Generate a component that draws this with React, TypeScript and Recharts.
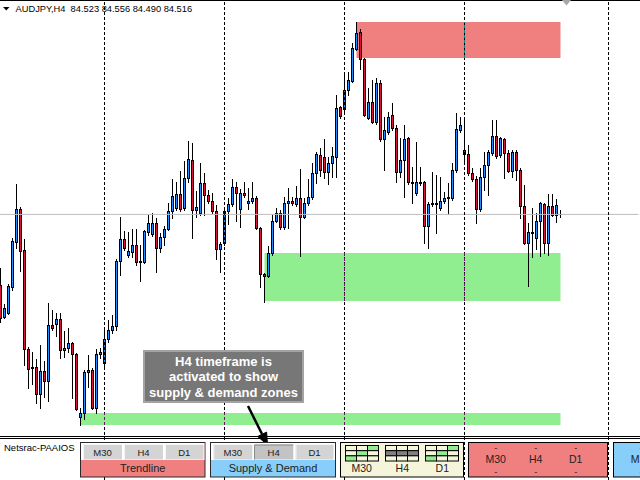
import React from 'react';
import { ComposedChart, Bar, XAxis, YAxis, ReferenceLine, ReferenceArea } from 'recharts';

const symbolTitle = 'AUDJPY,H4';
const quoteOHLC = ['84.523', '84.556', '84.490', '84.516'];
const bidPrice = 84.516;
const totalSlots = 160;
const yDomain = [81.86, 86.66];

const highs = [
  83.98, 83.62, 83.82, 84.28, 84.82, 84.59, 84.27, 83.19, 83.14, 83.07,
  83.21, 83.05, 83.63, 83.56, 83.53, 83.53, 83.35, 83.38, 83.24, 83.13,
  82.58, 82.96, 83.11, 82.98, 83.17, 83.18, 83.36, 83.46, 83.51, 84.07,
  84.49, 84.35, 84.34, 84.37, 84.37, 84.21, 84.36, 84.51, 84.53, 84.48,
  84.33, 84.40, 84.63, 84.87, 84.84, 84.95, 85.05, 85.25, 85.23, 84.75,
  85.03, 84.93, 84.76, 84.73, 84.61, 84.24, 84.58, 84.68, 84.87, 84.84,
  84.77, 84.84, 84.78, 84.84, 84.70, 84.39, 83.93, 84.20, 84.51, 84.58,
  84.56, 84.69, 84.78, 84.69, 84.80, 84.97, 84.68, 84.87, 85.03, 85.14,
  85.18, 85.27, 85.09, 85.19, 85.71, 85.60, 85.94, 85.94, 86.23, 86.44,
  86.37, 86.08, 85.78, 85.86, 85.88, 85.86, 85.49, 85.54, 85.63, 85.41,
  85.28, 85.41, 85.29, 84.99, 85.24, 84.99, 84.85, 84.64, 84.94, 84.91,
  84.89, 84.74, 84.83, 85.03, 85.53, 85.49, 85.46, 85.21, 84.98, 84.90,
  84.98, 85.14, 85.16, 85.46, 85.46, 85.29, 85.28, 85.16, 85.16, 85.16,
  84.98, 84.81, 84.43, 84.58, 84.53, 84.64, 84.63, 84.72, 84.72, 84.67,
  84.556,
];

const opens = [
  83.81, 83.49, 83.53, 83.79, 84.24, 84.57, 84.16, 83.17, 82.98, 82.99,
  82.72, 82.95, 82.85, 83.41, 83.42, 83.47, 83.16, 83.18, 83.23, 83.12,
  82.49, 82.53, 82.94, 82.96, 82.58, 83.12, 83.03, 83.27, 83.36, 83.40,
  84.05, 84.27, 84.11, 84.14, 84.21, 84.05, 84.04, 84.34, 84.32, 84.43,
  84.18, 84.29, 84.37, 84.55, 84.58, 84.72, 84.58, 84.88, 85.06, 84.56,
  84.53, 84.83, 84.71, 84.65, 84.55, 84.17, 84.23, 84.55, 84.62, 84.79,
  84.57, 84.73, 84.63, 84.65, 84.68, 84.38, 83.92, 83.90, 84.13, 84.45,
  84.53, 84.39, 84.63, 84.65, 84.62, 84.68, 84.49, 84.63, 84.69, 84.93,
  85.11, 85.09, 84.94, 85.03, 85.09, 85.59, 85.57, 85.76, 85.85, 86.17,
  86.34, 86.07, 85.48, 85.64, 85.44, 85.83, 85.27, 85.34, 85.51, 85.38,
  84.94, 85.06, 85.28, 84.83, 84.73, 84.84, 84.84, 84.40, 84.62, 84.63,
  84.58, 84.65, 84.68, 84.68, 84.96, 85.36, 85.16, 85.12, 84.93, 84.87,
  84.57, 84.89, 85.01, 85.13, 85.30, 85.11, 85.27, 85.13, 84.95, 85.14,
  84.96, 84.60, 84.23, 84.34, 84.28, 84.45, 84.62, 84.23, 84.60, 84.51,
  84.523,
];

const closes = [
  83.48, 83.58, 83.80, 84.25, 84.57, 84.15, 83.17, 82.97, 82.99, 82.72,
  82.95, 82.85, 83.41, 83.38, 83.47, 83.16, 83.18, 83.23, 83.12, 82.57,
  82.53, 82.94, 82.96, 82.58, 83.12, 83.14, 83.27, 83.36, 83.40, 84.05,
  84.27, 84.18, 84.15, 84.21, 84.04, 84.04, 84.35, 84.43, 84.43, 84.18,
  84.29, 84.37, 84.55, 84.70, 84.72, 84.57, 84.88, 85.07, 84.56, 84.59,
  84.83, 84.71, 84.65, 84.55, 84.17, 84.22, 84.55, 84.62, 84.79, 84.73,
  84.73, 84.71, 84.65, 84.68, 84.38, 83.92, 83.90, 84.13, 84.45, 84.53,
  84.39, 84.63, 84.65, 84.63, 84.68, 84.49, 84.63, 84.69, 84.93, 85.12,
  84.96, 84.94, 85.03, 85.10, 85.58, 85.50, 85.76, 85.86, 86.18, 86.33,
  86.07, 85.51, 85.64, 85.44, 85.83, 85.27, 85.36, 85.49, 85.38, 84.94,
  85.06, 85.27, 84.84, 84.84, 84.84, 84.83, 84.40, 84.62, 84.63, 84.62,
  84.65, 84.68, 84.69, 84.96, 85.37, 85.41, 85.12, 84.93, 84.87, 84.57,
  84.89, 85.01, 85.14, 85.30, 85.10, 85.28, 85.13, 84.95, 85.14, 84.96,
  84.60, 84.23, 84.34, 84.33, 84.45, 84.63, 84.23, 84.60, 84.51, 84.61,
  84.516,
];

const lows = [
  83.44, 83.48, 83.52, 83.76, 84.18, 83.95, 83.01, 82.78, 82.82, 82.63,
  82.58, 82.69, 82.65, 83.36, 83.30, 83.08, 83.09, 83.14, 82.68, 82.56,
  82.41, 82.47, 82.79, 82.57, 82.53, 83.08, 82.99, 83.24, 83.33, 83.36,
  83.91, 84.16, 84.09, 84.09, 84.01, 83.85, 84.03, 84.31, 84.30, 83.94,
  84.14, 84.21, 84.36, 84.48, 84.56, 84.55, 84.56, 84.84, 84.28, 84.49,
  84.51, 84.51, 84.63, 84.53, 84.07, 83.94, 84.21, 84.42, 84.60, 84.45,
  84.39, 84.69, 84.57, 84.63, 84.37, 83.79, 83.64, 83.89, 84.11, 84.44,
  84.37, 84.37, 84.38, 84.61, 84.60, 84.10, 84.48, 84.61, 84.67, 84.83,
  84.90, 84.88, 84.82, 84.89, 84.89, 85.48, 85.54, 85.71, 85.84, 86.16,
  85.97, 85.50, 85.47, 85.43, 85.42, 85.25, 84.96, 85.32, 85.36, 84.84,
  84.89, 84.69, 84.82, 84.63, 84.71, 84.81, 84.23, 84.18, 84.60, 84.33,
  84.56, 84.63, 84.52, 84.66, 84.94, 85.34, 85.04, 84.91, 84.85, 84.43,
  84.55, 84.76, 84.71, 85.11, 85.08, 85.09, 84.88, 84.94, 84.89, 84.86,
  84.48, 84.22, 83.80, 84.09, 84.17, 84.10, 84.13, 84.11, 84.50, 84.44,
  84.490,
];

// weekly period separators (bar index)
const separatorBars = [26, 56, 86, 116, 152];

// supply / demand zones
const zoneKinds = ['supply', 'demand', 'demand'];
const zoneFromBar = [89, 66, 20];
const zoneToBar = [140, 140, 140];
const zoneLow = [86.08, 83.65, 82.41];
const zoneHigh = [86.44, 84.13, 82.53];

const annotationLines = ['H4 timeframe is', 'activated to show', 'supply & demand zones'];
const indicatorName = 'Netsrac-PAAIOS';
const timeframes = ['M30', 'H4', 'D1'];

const data = Array.from({ length: totalSlots }, (_, i) =>
  i < opens.length
    ? { idx: i, range: [lows[i], highs[i]], open: opens[i], high: highs[i], low: lows[i], close: closes[i] }
    : { idx: i, range: null, open: null, high: null, low: null, close: null }
);

const zoneColor = (k: string) => (k === 'supply' ? '#F08080' : '#90EE90');
const xorColor = (k: string) => (k === 'supply' ? '#0F7F7F' : '#6F116F');

const Candle = (props: any) => {
  const { x, y, width, height, payload } = props;
  if (!payload || payload.open == null || !isFinite(y) || !isFinite(height)) return null;
  const top = Math.min(y, y + height);
  const bottom = Math.max(y, y + height);
  const cx = Math.floor(x + width / 2) + 0.5;
  const span = payload.high - payload.low;
  const toY = (p: number) => (span > 0 ? top + ((payload.high - p) / span) * (bottom - top) : top);
  const yo = toY(payload.open);
  const yc = toY(payload.close);
  const bt = Math.round(Math.min(yo, yc)) + 0.5;
  const bb = Math.round(Math.max(yo, yc)) + 0.5;
  const bull = payload.close > payload.open;
  const fill = bull ? '#1E90FF' : '#DC143C';
  return (
    <g shapeRendering="crispEdges">
      <line x1={cx} x2={cx} y1={Math.round(top)} y2={Math.round(bottom) + 1} stroke="#000" strokeWidth={1} />
      {bb - bt >= 1 ? (
        <rect x={cx - 1} y={bt} width={2} height={bb - bt} fill={fill} stroke="#000" strokeWidth={1} />
      ) : (
        <line x1={cx - 1.5} x2={cx + 1.5} y1={bt} y2={bt} stroke="#000" strokeWidth={1} />
      )}
    </g>
  );
};

const makeZoneShape = (from: number, to: number) => (props: any) => {
  const { x, y, width, height, fill } = props;
  const inset = width / (to - from + 1) / 2;
  return <rect x={x + inset} y={y} width={Math.max(0, width - 2 * inset)} height={height} fill={fill} stroke="none" />;
};

const Btn = ({ x, w, label, pressed }: { x: number; w: number; label: string; pressed?: boolean }) => (
  <g>
    <rect x={x} y={444.5} width={w} height={15} fill={pressed ? '#C3C3C3' : '#D4D4D4'} />
    {pressed ? (
      <path d={`M${x + 0.5} 459.5 V445 H${x + w}`} stroke="#8A8A8A" fill="none" />
    ) : (
      <path d={`M${x + 0.5} 459.5 V444.5 H${x + w}`} stroke="#F4F4F4" fill="none" />
    )}
    <text x={x + w / 2} y={pressed ? 456 : 455.5} textAnchor="middle" fontSize={9.5} fill="#222" fontFamily="Liberation Sans, Arial, sans-serif">
      {label}
    </text>
  </g>
);

const gridPatterns = [
  [['b', 'b', 'g'], ['b', 'g', 'b'], ['g', 'b', 'b']],
  [['b', 'b', 'b'], ['k', 'k', 'k'], ['b', 'b', 'b']],
  [['b', 'b', 'g'], ['b', 'g', 'b'], ['g', 'b', 'b']],
];
const cellColor: Record<string, string> = { b: '#F5F5DC', g: '#90EE90', k: '#808080' };

const Panel = () => {
  const font = 'Liberation Sans, Arial, sans-serif';
  const gridX = [345.5, 385.5, 425.5];
  const gridLabelX = [361.7, 402.3, 442.3];
  const redLabelX = [495.7, 535.7, 575.7];
  return (
    <svg width={640} height={480} style={{ position: 'absolute', left: 0, top: 0, pointerEvents: 'none' }}>
      {/* top border */}
      <line x1={0} x2={640} y1={0.5} y2={0.5} stroke="#000" />
      <polygon points="562,0 571,0 566.5,5.5" fill="#A8A8A8" />
      {/* title */}
      <polygon points="3,7 9.5,7 6.25,10.5" fill="#000" />
      <text x={15.5} y={12} fontSize={9.3} fontFamily={font} fill="#000" style={{ whiteSpace: 'pre' }}>
        {symbolTitle + '  ' + quoteOHLC.join(' ')}
      </text>
      {/* annotation */}
      <rect x={144} y={351} width={159} height={51} fill="#777777" stroke="#A3A3A3" strokeWidth={2} />
      {annotationLines.map((t, k) => (
        <text key={t} x={223.5} y={365.5 + k * 15.8} textAnchor="middle" fontSize={13} fontWeight="bold" fill="#FFFFFF" fontFamily={font}>
          {t}
        </text>
      ))}
      <line x1={248} y1={406} x2={262} y2={434} stroke="#000" strokeWidth={2.5} />
      <polygon points="267.5,445 257.7,436.5 266.6,432.1" fill="#000" stroke="#000" strokeWidth={1} />
      {/* panel separator */}
      <line x1={0} x2={640} y1={436.5} y2={436.5} stroke="#000" />
      <line x1={0} x2={640} y1={438.5} y2={438.5} stroke="#000" />
      <text x={4} y={451} fontSize={9.5} fontFamily={font} fill="#000">{indicatorName}</text>
      {/* Trendline group */}
      <rect x={80.5} y={442.5} width={124.5} height={34.5} fill="#F08080" stroke="#2A2A2A" />
      <rect x={81} y={443} width={123.5} height={17} fill="#FFFFFF" />
      <Btn x={83} w={39} label={timeframes[0]} />
      <Btn x={124} w={39} label={timeframes[1]} />
      <Btn x={165} w={38.5} label={timeframes[2]} />
      <text x={142.7} y={472} textAnchor="middle" fontSize={11} fontFamily={font} fill="#222">Trendline</text>
      {/* Supply & Demand group */}
      <rect x={210.5} y={442.5} width={125} height={34.5} fill="#87CEFA" stroke="#2A2A2A" />
      <rect x={211} y={443} width={124} height={17} fill="#FFFFFF" />
      <Btn x={213.3} w={39} label={timeframes[0]} />
      <Btn x={254} w={39.3} label={timeframes[1]} pressed />
      <Btn x={295.5} w={38} label={timeframes[2]} />
      <text x={273} y={472} textAnchor="middle" fontSize={11} fontFamily={font} fill="#222">Supply &amp; Demand</text>
      {/* status grid group */}
      <rect x={340.5} y={442.5} width={123} height={34.5} fill="#F5F5DC" stroke="#000" />
      {gridPatterns.map((rows, g) => (
        <g key={g}>
          {rows.map((row, r) =>
            row.map((c, col) => (
              <rect key={`${r}-${col}`} x={gridX[g] + col * 11} y={445.5 + r * 5.17} width={11} height={5.17} fill={cellColor[c]} stroke="#000" strokeWidth={1} />
            ))
          )}
          <text x={gridLabelX[g]} y={472} textAnchor="middle" fontSize={10.5} fontFamily={font} fill="#222">
            {timeframes[g]}
          </text>
        </g>
      ))}
      {/* red trend status group */}
      <rect x={468.5} y={442.5} width={139} height={34.5} fill="#F08080" stroke="#000" />
      {redLabelX.map((lx, g) => (
        <g key={g}>
          <text x={lx} y={450.5} textAnchor="middle" fontSize={9} fontFamily={font} fill="#222">-</text>
          <text x={lx} y={463} textAnchor="middle" fontSize={10.5} fontFamily={font} fill="#222">{timeframes[g]}</text>
          <text x={lx} y={475} textAnchor="middle" fontSize={9} fontFamily={font} fill="#222">-</text>
        </g>
      ))}
      {/* blue partial group */}
      <rect x={613.5} y={442.5} width={40} height={34.5} fill="#87CEFA" stroke="#000" />
      <text x={641} y={450.5} textAnchor="middle" fontSize={9} fontFamily={font} fill="#222">-</text>
      <text x={641} y={463} textAnchor="middle" fontSize={10.5} fontFamily={font} fill="#222">{timeframes[0]}</text>
      <text x={641} y={475} textAnchor="middle" fontSize={9} fontFamily={font} fill="#222">-</text>
    </svg>
  );
};

export default function App() {
  const xorSegments: { s: number; k: string; lo: number; hi: number }[] = [];
  zoneKinds.forEach((k, z) => {
    separatorBars.forEach((s) => {
      if (s >= zoneFromBar[z] && s <= zoneToBar[z]) xorSegments.push({ s, k, lo: zoneLow[z], hi: zoneHigh[z] });
    });
  });
  return (
    <div style={{ position: 'absolute', left: 0, top: 0, width: 640, height: 480, overflow: 'hidden', background: '#fff' }}>
      <ComposedChart width={640} height={480} data={data} margin={{ top: 0, right: 1.5, bottom: 0, left: -1.5 }}>
        <XAxis dataKey="idx" type="category" hide />
        <YAxis type="number" domain={yDomain} hide allowDataOverflow />
        {zoneKinds.map((k, z) => (
          <ReferenceArea
            key={`zone-${z}`}
            x1={zoneFromBar[z]}
            x2={zoneToBar[z]}
            y1={zoneLow[z]}
            y2={zoneHigh[z]}
            fill={zoneColor(k)}
            fillOpacity={1}
            stroke="none"
            shape={makeZoneShape(zoneFromBar[z], zoneToBar[z])}
            ifOverflow="visible"
          />
        ))}
        <ReferenceLine y={bidPrice} stroke="#BDBDBD" strokeWidth={1} />
        {separatorBars.map((s) => (
          <ReferenceLine key={`sep-${s}`} x={s} stroke="#000" strokeWidth={1} strokeDasharray="3 2" />
        ))}
        {xorSegments.map((g, n) => (
          <ReferenceLine
            key={`xor-${n}`}
            segment={[{ x: g.s, y: g.lo }, { x: g.s, y: g.hi }]}
            stroke={xorColor(g.k)}
            strokeWidth={1}
            strokeDasharray="3 2"
          />
        ))}
        <Bar dataKey="range" isAnimationActive={false} shape={(p: any) => <Candle {...p} />} />
      </ComposedChart>
      <Panel />
    </div>
  );
}
